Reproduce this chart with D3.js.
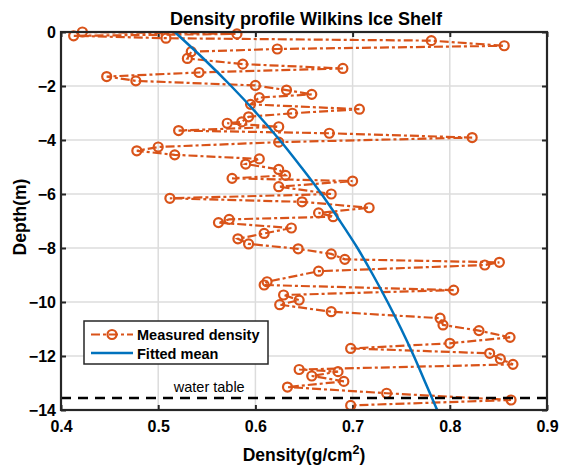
<!DOCTYPE html>
<html>
<head>
<meta charset="utf-8">
<script src="https://cdn.jsdelivr.net/npm/d3@7"></script>
<style>
  body { margin: 0; background: #fff; }
  svg { font-family: "Liberation Sans", Arial, sans-serif; }
</style>
</head>
<body>
<svg id="chart" width="561" height="465"></svg>
<script>
// Measured density profile (depth in m, density in g/cm^2)
const measuredDepth = [0.00,-0.07,-0.14,-0.23,-0.32,-0.51,-0.63,-0.73,-0.98,-1.19,-1.35,-1.50,-1.65,-1.81,-1.98,-2.15,-2.31,-2.43,-2.68,-2.86,-3.01,-3.14,-3.33,-3.38,-3.51,-3.65,-3.75,-3.91,-4.08,-4.26,-4.40,-4.55,-4.70,-4.89,-5.09,-5.31,-5.42,-5.52,-5.73,-6.00,-6.16,-6.29,-6.51,-6.70,-6.84,-6.94,-7.06,-7.26,-7.46,-7.66,-7.85,-8.03,-8.22,-8.42,-8.53,-8.63,-8.86,-9.25,-9.37,-9.56,-9.74,-9.93,-10.10,-10.36,-10.60,-10.85,-11.06,-11.31,-11.53,-11.72,-11.90,-12.11,-12.31,-12.50,-12.58,-12.74,-12.94,-13.15,-13.38,-13.63,-13.83];
const measuredDensity = [0.422,0.581,0.413,0.508,0.781,0.856,0.6225,0.534,0.530,0.587,0.690,0.542,0.447,0.477,0.600,0.632,0.658,0.604,0.595,0.707,0.638,0.593,0.586,0.571,0.624,0.521,0.676,0.823,0.624,0.500,0.478,0.517,0.604,0.590,0.624,0.631,0.576,0.700,0.624,0.678,0.512,0.648,0.717,0.665,0.680,0.573,0.562,0.637,0.609,0.582,0.593,0.644,0.678,0.692,0.851,0.836,0.665,0.612,0.609,0.804,0.629,0.645,0.625,0.678,0.790,0.793,0.830,0.862,0.800,0.698,0.841,0.852,0.865,0.645,0.685,0.658,0.691,0.633,0.735,0.863,0.698];

// Fitted mean curve
const fitDepth   = [0,-1,-2,-3,-4,-5,-6,-7,-8,-9,-10,-11,-12,-13,-14];
const fitDensity = [0.517,0.547,0.575,0.601,0.625,0.647,0.668,0.687,0.705,0.721,0.736,0.750,0.763,0.775,0.787];

const waterTableDepth = -13.56;

const xTicks = [0.4,0.5,0.6,0.7,0.8,0.9];
const yTicks = [0,-2,-4,-6,-8,-10,-12,-14];

const titleText = "Density profile Wilkins Ice Shelf";
const legendLabels = ["Measured density","Fitted mean"];

const orange = "#D95319", blue = "#0072BD", axisCol = "#262626";

const svg = d3.select("#chart");
const L = 61, R = 547, T = 32, B = 410;
const x = d3.scaleLinear().domain([0.4,0.9]).range([L,R]);
const y = d3.scaleLinear().domain([-14,0]).range([B,T]);

// grid
svg.append("g").selectAll("line").data(xTicks.slice(1,-1)).join("line")
  .attr("x1",d=>x(d)).attr("x2",d=>x(d)).attr("y1",T).attr("y2",B)
  .attr("stroke","#dcdcdc").attr("stroke-width",1.5);
svg.append("g").selectAll("line").data(yTicks.slice(1,-1)).join("line")
  .attr("y1",d=>y(d)).attr("y2",d=>y(d)).attr("x1",L).attr("x2",R)
  .attr("stroke","#dcdcdc").attr("stroke-width",1.5);

// axes
const fmtX = d3.format(".1f");
const xAxis = svg.append("g").attr("transform",`translate(0,${B})`)
  .call(d3.axisBottom(x).tickValues(xTicks).tickFormat(fmtX).tickSizeInner(-5).tickSizeOuter(0).tickPadding(11));
const xAxisTop = svg.append("g").attr("transform",`translate(0,${T})`)
  .call(d3.axisTop(x).tickValues(xTicks).tickFormat("").tickSizeInner(-5).tickSizeOuter(0));
const yAxis = svg.append("g").attr("transform",`translate(${L},0)`)
  .call(d3.axisLeft(y).tickValues(yTicks).tickFormat(d=>d3.format("d")(d)).tickSizeInner(-5).tickSizeOuter(0).tickPadding(5));
const yAxisR = svg.append("g").attr("transform",`translate(${R},0)`)
  .call(d3.axisRight(y).tickValues(yTicks).tickFormat("").tickSizeInner(-5).tickSizeOuter(0));
[xAxis,xAxisTop,yAxis,yAxisR].forEach(g=>{
  g.select(".domain").remove();
  g.selectAll("line").attr("stroke",axisCol).attr("stroke-width",2);
  g.selectAll("text").attr("fill","#000").attr("font-size",16).attr("font-weight","bold")
    .attr("font-family","'Liberation Sans', Arial, sans-serif");
});

// measured data
const pts = measuredDepth.map((d,i)=>({d, v: measuredDensity[i]}));
const line = d3.line().x(p=>x(p.v)).y(p=>y(p.d));
svg.append("path").datum(pts).attr("d",line)
  .attr("fill","none").attr("stroke",orange).attr("stroke-width",2.2)
  .attr("stroke-dasharray","9,3,3,3");
svg.append("g").selectAll("circle").data(pts).join("circle")
  .attr("cx",p=>x(p.v)).attr("cy",p=>y(p.d)).attr("r",4.5)
  .attr("fill","none").attr("stroke",orange).attr("stroke-width",2.2);

// fitted curve
const fit = fitDepth.map((d,i)=>({d, v: fitDensity[i]}));
svg.append("path").datum(fit).attr("d",d3.line().x(p=>x(p.v)).y(p=>y(p.d)).curve(d3.curveCatmullRom))
  .attr("fill","none").attr("stroke",blue).attr("stroke-width",2.5);

// water table
svg.append("line").attr("x1",L).attr("x2",R).attr("y1",y(waterTableDepth)).attr("y2",y(waterTableDepth))
  .attr("stroke","#000").attr("stroke-width",2.5).attr("stroke-dasharray","10,7");
svg.append("text").attr("x",x(0.516)).attr("y",y(waterTableDepth)-6)
  .attr("font-size",14.5).attr("fill","#000").text("water table");

// frame
svg.append("rect").attr("x",L).attr("y",T).attr("width",R-L).attr("height",B-T)
  .attr("fill","none").attr("stroke",axisCol).attr("stroke-width",2.2);

// title
svg.append("text").attr("x",(L+R)/2+2).attr("y",25).attr("text-anchor","middle")
  .attr("font-size",18).attr("font-weight","bold").text(titleText);

// axis labels
const xl = svg.append("text").attr("x",(L+R)/2).attr("y",461).attr("text-anchor","middle")
  .attr("font-size",17.5).attr("font-weight","bold");
xl.append("tspan").text("Density(g/cm");
xl.append("tspan").attr("font-size",12.5).attr("dy",-7).text("2");
xl.append("tspan").attr("dy",7).text(")");
svg.append("text").attr("transform",`translate(26,${(T+B)/2-4}) rotate(-90)`)
  .attr("text-anchor","middle").attr("font-size",17.5).attr("font-weight","bold").text("Depth(m)");

// legend
const lg = svg.append("g");
lg.append("rect").attr("x",84).attr("y",321).attr("width",184).attr("height",43)
  .attr("fill","#fff").attr("stroke",axisCol).attr("stroke-width",1.5);
lg.append("line").attr("x1",91).attr("x2",133).attr("y1",334.5).attr("y2",334.5)
  .attr("stroke",orange).attr("stroke-width",2.2).attr("stroke-dasharray","9,3,3,3");
lg.append("circle").attr("cx",112).attr("cy",334.5).attr("r",4.5)
  .attr("fill","none").attr("stroke",orange).attr("stroke-width",2.2);
lg.append("line").attr("x1",91).attr("x2",133).attr("y1",353).attr("y2",353)
  .attr("stroke",blue).attr("stroke-width",2.5);
lg.selectAll("text").data(legendLabels).join("text")
  .attr("x",137).attr("y",(d,i)=>[339.5,358.5][i])
  .attr("font-size",14.5).attr("font-weight","bold").text(d=>d);
</script>
</body>
</html>
